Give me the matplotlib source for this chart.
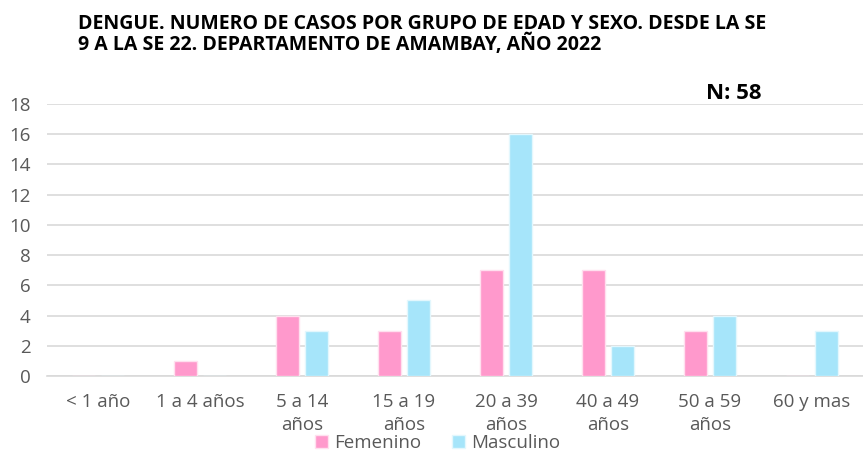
import matplotlib.pyplot as plt
import numpy as np

# Datos
grupos = ['< 1 año', '1 a 4 años', '5 a 14\naños', '15 a 19\naños',
          '20 a 39\naños', '40 a 49\naños', '50 a 59\naños', '60 y mas']
femenino = [0, 1, 4, 3, 7, 7, 3, 0]
masculino = [0, 0, 3, 5, 16, 2, 4, 3]

plt.rcParams['font.family'] = ['Open Sans', 'DejaVu Sans']

fig = plt.figure(figsize=(8.63, 4.55), dpi=100)
ax = fig.add_axes([0.0545, 0.1736, 0.9455, 0.5978])

x = np.arange(len(grupos))
ancho = 0.22
ax.bar(x - 0.142, femenino, ancho, color='#FF99CC', edgecolor='#FFE0EF',
       linewidth=1, label='Femenino', zorder=3)
ax.bar(x + 0.142, masculino, ancho, color='#A6E5FA', edgecolor='#E3F7FD',
       linewidth=1, label='Masculino', zorder=3)

ax.set_xlim(-0.5, len(grupos) - 0.5)
ax.set_ylim(0, 18)
ax.set_yticks(range(0, 19, 2))
ax.set_xticks(x)
ax.set_xticklabels(grupos, linespacing=1.35)
ax.tick_params(axis='both', length=0, labelsize=13.5, colors='#595959')
ax.tick_params(axis='x', pad=12)
ax.tick_params(axis='y', pad=12)

ax.grid(axis='y', color='#D9D9D9', linewidth=1.2, zorder=0)
for s in ['top', 'right', 'left']:
    ax.spines[s].set_visible(False)
ax.spines['bottom'].set_color('#D9D9D9')
ax.spines['bottom'].set_linewidth(1.2)

fig.text(0.0905, 0.97, 'DENGUE. NUMERO DE CASOS POR GRUPO DE EDAD Y SEXO. DESDE LA SE\n'
         '9 A LA SE 22. DEPARTAMENTO DE AMAMBAY, AÑO 2022',
         fontsize=14, fontweight='bold', color='#000000', va='top', ha='left',
         linespacing=0.98)
fig.text(0.818, 0.795, 'N: 58', fontsize=16, fontweight='bold', color='#000000',
         ha='left', va='center')

fig.legend(loc='center', bbox_to_anchor=(0.507, 0.027), ncol=2, frameon=False,
           fontsize=13.5, labelcolor='#595959', handlelength=0.7, handleheight=0.7,
           handletextpad=0.35, borderpad=0, borderaxespad=0, columnspacing=1.6)

fig.savefig('out.png', dpi=100)
